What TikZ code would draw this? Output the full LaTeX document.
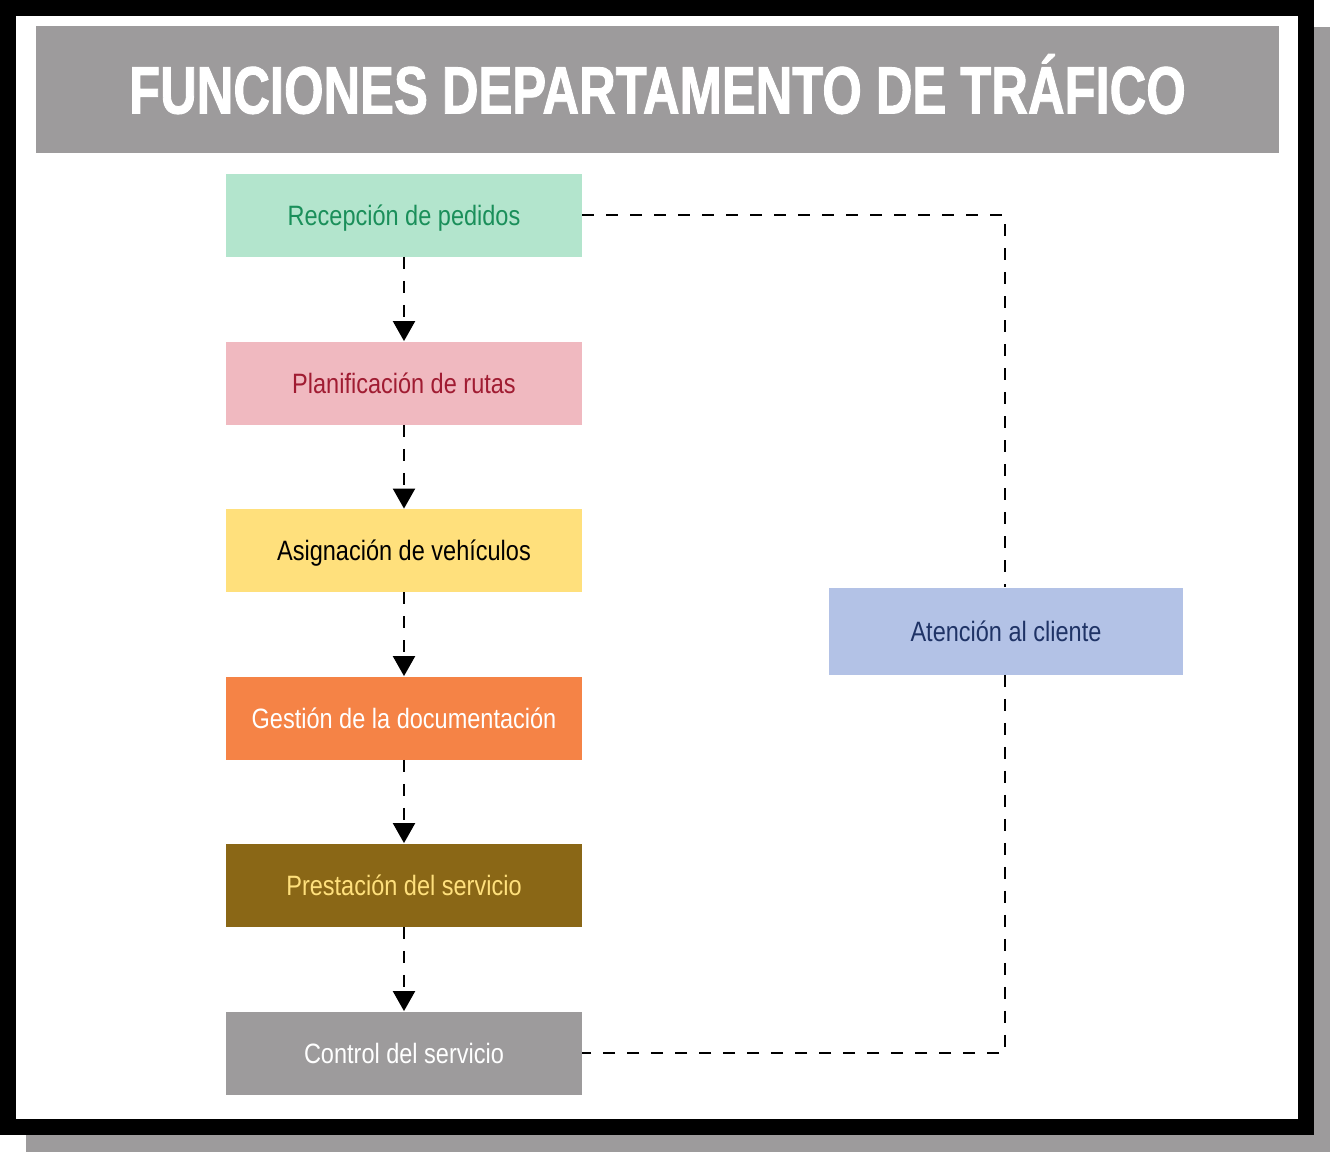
\documentclass[tikz,border=0pt]{standalone}
\usepackage{fontspec}
\setmainfont{Liberation Sans}
\newfontfamily\titlefont[FakeStretch=0.757,FakeBold=1.3]{Liberation Sans Bold}
\newfontfamily\boxfont[FakeStretch=0.84]{Liberation Sans}
\usetikzlibrary{arrows.meta}
\definecolor{shadowgray}{HTML}{9D9B9C}
\definecolor{c1fill}{HTML}{B3E5CD}\definecolor{c1text}{HTML}{1A8F5A}
\definecolor{c2fill}{HTML}{F0B9C0}\definecolor{c2text}{HTML}{A01C32}
\definecolor{c3fill}{HTML}{FFE07C}\definecolor{c3text}{HTML}{000000}
\definecolor{c4fill}{HTML}{F58346}\definecolor{c4text}{HTML}{FFFFFF}
\definecolor{c5fill}{HTML}{8A6716}\definecolor{c5text}{HTML}{FFE07C}
\definecolor{c6fill}{HTML}{9D9B9C}\definecolor{c6text}{HTML}{FFFFFF}
\definecolor{c7fill}{HTML}{B3C2E6}\definecolor{c7text}{HTML}{1F3366}
\tikzset{
  stepbox/.style={draw=none, inner sep=0pt, minimum width=178pt, minimum height=41.5pt,
    font=\boxfont\fontsize{14pt}{16pt}\selectfont, text height=10pt, text depth=0pt},
  dashline/.style={line width=1pt, dash pattern=on 6pt off 6pt},
  flowarrow/.style={dashline, -{Triangle[width=11pt,length=10pt]}}
}
\begin{document}
\begin{tikzpicture}[x=0.5pt,y=-0.5pt]
\useasboundingbox (0,0) rectangle (1330,1152);
% shadow, frame
\fill[shadowgray] (26,27) rectangle (1330,1152);
\fill[black] (0,0) rectangle (1314,1135);
\fill[white] (16,16) rectangle (1298,1119);
% title bar
\fill[shadowgray] (36,26) rectangle (1279,153);
\node[text=white, inner sep=0pt, font=\titlefont\fontsize{33.5pt}{36pt}\selectfont, text height=24pt, text depth=0pt] (title) at (657.5,89.5) {FUNCIONES DEPARTAMENTO DE TRÁFICO};
% boxes
\node[stepbox, fill=c1fill, text=c1text] (b1) at (404,215) {Recepción de pedidos};
\node[stepbox, fill=c2fill, text=c2text] (b2) at (404,383) {Planificación de rutas};
\node[stepbox, fill=c3fill, text=c3text] (b3) at (404,550.5) {Asignación de vehículos};
\node[stepbox, fill=c4fill, text=c4text] (b4) at (404,718) {Gestión de la documentación};
\node[stepbox, fill=c5fill, text=c5text] (b5) at (404,885) {Prestación del servicio};
\node[stepbox, fill=c6fill, text=c6text] (b6) at (404,1053) {Control del servicio};
\node[stepbox, minimum width=177pt, minimum height=43.5pt, fill=c7fill, text=c7text] (b7) at (1006,631) {Atención al cliente};
% arrows
\draw[flowarrow] (b1.south) -- (b2.north);
\draw[flowarrow] (b2.south) -- (b3.north);
\draw[flowarrow] (b3.south) -- (b4.north);
\draw[flowarrow] (b4.south) -- (b5.north);
\draw[flowarrow] (b5.south) -- (b6.north);
% customer service links
\coordinate (c1) at (1005,215);
\coordinate (c2) at (1005,1053);
\draw[dashline] (b1.east) -- (c1) -- (c1 |- b7.north);
\draw[dashline] (c2 |- b7.south) -- (c2) -- (b6.east);
\end{tikzpicture}
\end{document}
